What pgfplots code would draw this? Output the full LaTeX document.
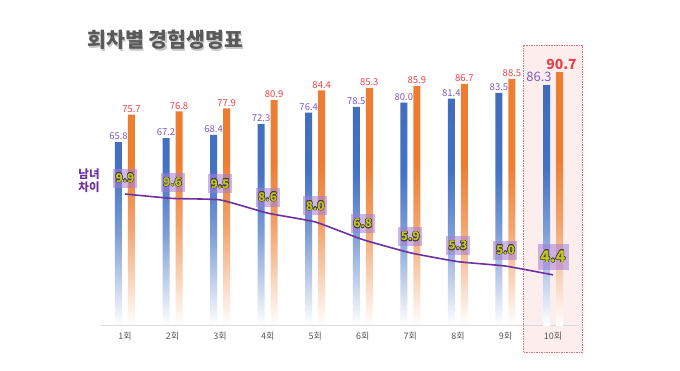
\documentclass[border=0pt]{standalone}
\usepackage{pgfplots}
\pgfplotsset{compat=1.18}
\usepackage{fontspec}
\usepackage{contour}
\contourlength{0.4pt}
\setmainfont{Noto Sans CJK KR}
\definecolor{bblue}{HTML}{4472C4}
\definecolor{borange}{HTML}{ED7D31}
\definecolor{lblue}{HTML}{7F5BBF}
\definecolor{lred}{HTML}{E8424B}
\definecolor{lpurple}{HTML}{7030A0}
\definecolor{boxp}{HTML}{A57BD6}
\definecolor{difft}{HTML}{C4C41E}
\definecolor{tgray}{HTML}{595959}
\pgfdeclareverticalshading{bluebar}{100bp}{color(0bp)=(white); color(25bp)=(white); color(32bp)=(bblue!25!white); color(45bp)=(bblue!70!white); color(58bp)=(bblue); color(75bp)=(bblue!95!black); color(100bp)=(bblue!95!black)}
\pgfdeclareverticalshading{orangebar}{100bp}{color(0bp)=(white); color(25bp)=(white); color(32bp)=(borange!25!white); color(45bp)=(borange!70!white); color(58bp)=(borange); color(75bp)=(borange); color(100bp)=(borange)}
\pgfplotstableread{
x blue orange diff
1 65.8 75.7 9.9
2 67.2 76.8 9.6
3 68.4 77.9 9.5
4 72.3 80.9 8.6
5 76.4 84.4 8.0
6 78.5 85.3 6.8
7 80.0 85.9 5.9
8 81.4 86.7 5.3
9 83.5 88.5 5.0
}\first
\pgfplotstableread{
x blue orange diff
10 86.3 90.7 4.4
}\last
\begin{document}
\begin{tikzpicture}
\useasboundingbox[fill=white] (0,0) rectangle (680pt,370pt);
% highlight of the last round
\draw[draw={rgb,255:red,230;green,110;blue,110}, fill={rgb,255:red,253;green,238;blue,238}, dash pattern=on 1.5pt off 1pt, line width=0.6pt] (523pt,18pt) rectangle (582pt,325pt);
% title with shadow
\node[anchor=west, text=black!22, font=\bfseries\fontsize{20.5}{24}\selectfont] at (85.2pt,328.6pt) {회차별 경험생명표};
\node[anchor=west, text=tgray, font=\bfseries\fontsize{20.5}{24}\selectfont] at (84pt,330pt) {회차별 경험생명표};
% side label
\node[align=center, text=lpurple, font=\bfseries\fontsize{11.5}{13}\selectfont] at (89pt,189pt) {남녀\\차이};
\pgfplotsset{myax/.style={
  at={(101.2pt,45pt)}, anchor=south west,
  scale only axis, width=475.6pt, height=278pt,
  xmin=0.5, xmax=10.5, clip=false,
  /pgf/number format/assume math mode=true,
  /pgf/number format/.cd, fixed, fixed zerofill, precision=1}}
% bars
\begin{axis}[myax, ymin=0, ymax=100,
  axis y line=none, axis x line*=bottom,
  x axis line style={draw=black!15, line width=0.8pt, -},
  xtick={1,...,10},
  xticklabels={1회,2회,3회,4회,5회,6회,7회,8회,9회,10회},
  xtick style={draw=none},
  xticklabel style={text=tgray, font=\fontsize{9}{10}\selectfont, yshift=-4pt}]
\addplot[ybar, bar width=7pt, bar shift=6.5pt, draw=none, shading=orangebar] table[x=x,y=orange] {\first};
\addplot[ybar, bar width=7pt, bar shift=6.5pt, draw=none, shading=orangebar] table[x=x,y=orange] {\last};
\addplot[ybar, bar width=7pt, bar shift=-6.5pt, draw=none, shading=bluebar] table[x=x,y=blue] {\first};
\addplot[ybar, bar width=7pt, bar shift=-6.5pt, draw=none, shading=bluebar] table[x=x,y=blue] {\last};
\end{axis}
% value labels
\begin{axis}[myax, ymin=0, ymax=100, hide axis]
\addplot[draw=none, mark=none, nodes near coords,
  every node near coord/.append style={text=lred, font=\fontsize{9.5}{11}\selectfont, inner sep=2pt, xshift=6.5pt}]
  table[x=x,y=orange] {\first};
\addplot[draw=none, mark=none, nodes near coords,
  every node near coord/.append style={text=lred, font=\bfseries\fontsize{14}{16}\selectfont, inner sep=2pt, xshift=8.5pt, yshift=1pt}]
  table[x=x,y=orange] {\last};
\addplot[draw=none, mark=none, nodes near coords,
  every node near coord/.append style={text=lblue, font=\fontsize{9.5}{11}\selectfont, inner sep=2pt, xshift=-6.5pt}]
  table[x=x,y=blue] {\first};
\addplot[draw=none, mark=none, nodes near coords,
  every node near coord/.append style={text=lblue, font=\fontsize{13}{15}\selectfont, inner sep=2pt, xshift=-14pt, yshift=1pt}]
  table[x=x,y=blue] {\last};
\end{axis}
% difference line
\begin{axis}[myax, ymin=0.99, ymax=19.9, hide axis]
\addplot[lpurple, line width=1.6pt, smooth, tension=0.25, mark=none] coordinates {
  (1,9.9) (2,9.6) (3,9.5) (4,8.6) (5,8.0) (6,6.8) (7,5.9) (8,5.3) (9,5.0) (10,4.4)};
\addplot[draw=none, mark=none,
  nodes near coords={\contour{black!75}{\pgfmathprintnumber{\pgfplotspointmeta}}},
  every node near coord/.append style={anchor=center, yshift=16pt, fill=boxp, fill opacity=0.55, text opacity=1, text=difft, font=\bfseries\fontsize{12}{14}\selectfont, minimum width=24pt, minimum height=19pt, inner sep=1pt}]
  table[x=x,y=diff] {\first};
\addplot[draw=none, mark=none,
  nodes near coords={\contour{black!75}{\pgfmathprintnumber{\pgfplotspointmeta}}},
  every node near coord/.append style={anchor=center, yshift=18pt, fill=boxp, fill opacity=0.55, text opacity=1, text=difft, font=\bfseries\fontsize{16}{18}\selectfont, minimum width=31pt, minimum height=26pt, inner sep=1pt}]
  table[x=x,y=diff] {\last};
\end{axis}
\end{tikzpicture}
\end{document}
